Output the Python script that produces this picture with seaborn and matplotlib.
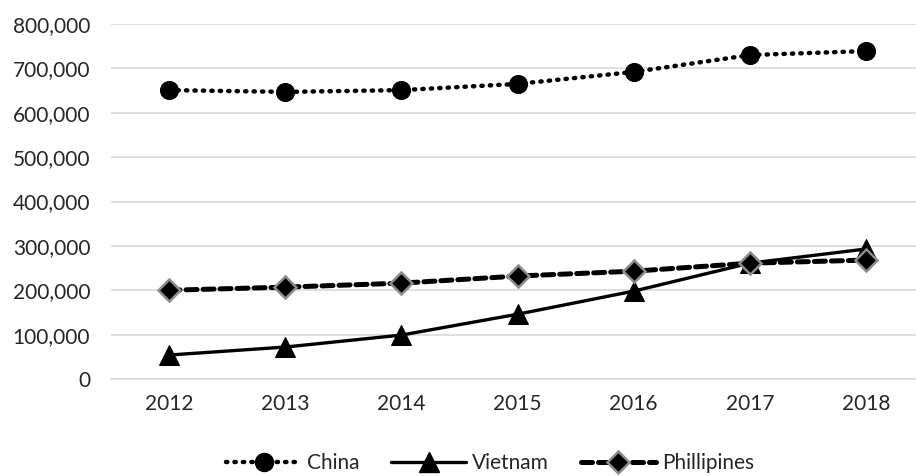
import matplotlib
matplotlib.use("Agg")
import matplotlib.pyplot as plt
import matplotlib.ticker as mticker
from matplotlib.lines import Line2D
import seaborn as sns
import pandas as pd

years = ["2012", "2013", "2014", "2015", "2016", "2017", "2018"]
china = [651000, 647000, 651000, 665000, 692000, 730000, 739000]
vietnam = [54000, 72000, 99000, 146000, 198000, 261000, 293000]
philippines = [200000, 207000, 216000, 232000, 243000, 261000, 268000]

sns.set_theme(style="white")
plt.rcParams["font.family"] = ["Lato", "DejaVu Sans"]

fig = plt.figure(figsize=(9.16, 4.76), dpi=100)
ax = fig.add_axes([111 / 916, 97 / 476, 1 - 111 / 916, (379 - 24) / 476])

pos = list(range(len(years)))
series = [
    ("China", china, dict(linestyle=(0, (0.3, 1.6)), linewidth=3.2, marker="o",
                          markersize=13, markerfacecolor="black",
                          markeredgecolor="black", dash_capstyle="round")),
    ("Vietnam", vietnam, dict(linestyle="-", linewidth=2.4, marker="^",
                              markersize=15, markerfacecolor="black",
                              markeredgecolor="black")),
    ("Phillipines", philippines, dict(linestyle=(0, (2.2, 1.2)), linewidth=3.6,
                                      marker="D", markersize=11,
                                      markerfacecolor="black",
                                      markeredgecolor="#8c8c8c",
                                      markeredgewidth=1.8,
                                      dash_capstyle="round")),
]

handles = []
for name, vals, kw in series:
    df = pd.DataFrame({"x": pos, "y": vals})
    sns.lineplot(data=df, x="x", y="y", ax=ax, color="black", legend=False, **kw)
    handles.append(Line2D([0], [0], color="black", label=name, **kw))

ax.set_xlim(-0.5, 6.43)
ax.set_ylim(0, 800000)
ax.set_xticks(pos)
ax.set_xticklabels(years)
ax.yaxis.set_major_locator(mticker.MultipleLocator(100000))
ax.yaxis.set_major_formatter(mticker.FuncFormatter(lambda v, p: f"{int(v):,}"))
ax.set_xlabel("")
ax.set_ylabel("")
ax.grid(axis="y", color="#d9d9d9", linewidth=1.2)
ax.set_axisbelow(True)
for s in ["top", "right", "left"]:
    ax.spines[s].set_visible(False)
ax.spines["bottom"].set_color("#d9d9d9")
ax.spines["bottom"].set_linewidth(1.2)
ax.tick_params(axis="both", labelsize=15, colors="#262626", length=0)
ax.tick_params(axis="x", pad=11)
ax.tick_params(axis="y", pad=15)

fig.legend(handles=handles, loc="center", bbox_to_anchor=(490 / 916, 1 - 463 / 476),
           ncol=3, frameon=False, fontsize=15, handlelength=3.6,
           columnspacing=1.5, handletextpad=0.3, labelcolor="#262626")

fig.savefig("out.png", dpi=100)
